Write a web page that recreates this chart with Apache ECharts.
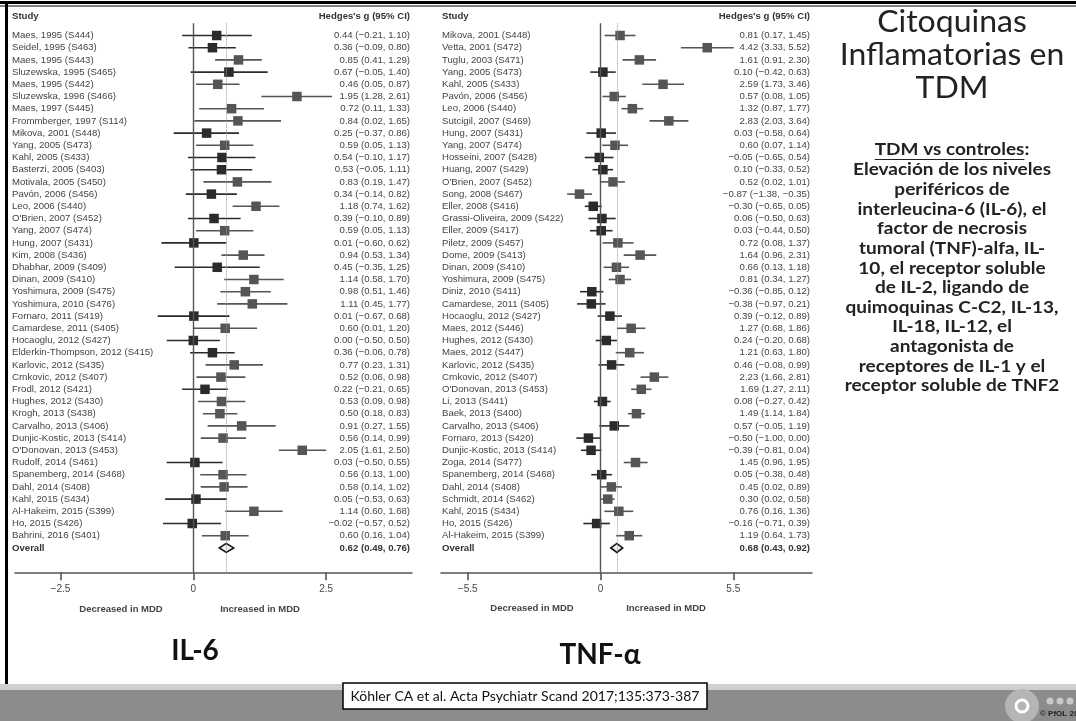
<!DOCTYPE html>
<html><head><meta charset="utf-8">
<script src="https://cdn.jsdelivr.net/npm/echarts@6/dist/echarts.min.js"></script>
<style>html,body{margin:0;padding:0;background:#fff}#c{width:1076px;height:721px}</style>
</head><body><div id="c"></div>
<script>
// ---------- DATA ----------
const il6Studies = ["Maes, 1995 (S444)","Seidel, 1995 (S463)","Maes, 1995 (S443)","Sluzewska, 1995 (S465)","Maes, 1995 (S442)","Sluzewska, 1996 (S466)","Maes, 1997 (S445)","Frommberger, 1997 (S114)","Mikova, 2001 (S448)","Yang, 2005 (S473)","Kahl, 2005 (S433)","Basterzi, 2005 (S403)","Motivala, 2005 (S450)","Pavón, 2006 (S456)","Leo, 2006 (S440)","O'Brien, 2007 (S452)","Yang, 2007 (S474)","Hung, 2007 (S431)","Kim, 2008 (S436)","Dhabhar, 2009 (S409)","Dinan, 2009 (S410)","Yoshimura, 2009 (S475)","Yoshimura, 2010 (S476)","Fornaro, 2011 (S419)","Camardese, 2011 (S405)","Hocaoglu, 2012 (S427)","Elderkin-Thompson, 2012 (S415)","Karlovic, 2012 (S435)","Crnkovic, 2012 (S407)","Frodl, 2012 (S421)","Hughes, 2012 (S430)","Krogh, 2013 (S438)","Carvalho, 2013 (S406)","Dunjic-Kostic, 2013 (S414)","O'Donovan, 2013 (S453)","Rudolf, 2014 (S461)","Spanemberg, 2014 (S468)","Dahl, 2014 (S408)","Kahl, 2015 (S434)","Al-Hakeim, 2015 (S399)","Ho, 2015 (S426)","Bahrini, 2016 (S401)","Overall"];
const il6Est = [0.44,0.36,0.85,0.67,0.46,1.95,0.72,0.84,0.25,0.59,0.54,0.53,0.83,0.34,1.18,0.39,0.59,0.01,0.94,0.45,1.14,0.98,1.11,0.01,0.60,0.00,0.36,0.77,0.52,0.22,0.53,0.50,0.91,0.56,2.05,0.03,0.56,0.58,0.05,1.14,-0.02,0.60,0.62];
const il6Lo  = [-0.21,-0.09,0.41,-0.05,0.05,1.28,0.11,0.02,-0.37,0.05,-0.10,-0.05,0.19,-0.14,0.74,-0.10,0.05,-0.60,0.53,-0.35,0.58,0.51,0.45,-0.67,0.01,-0.50,-0.06,0.23,0.06,-0.21,0.09,0.18,0.27,0.14,1.61,-0.50,0.13,0.14,-0.53,0.60,-0.57,0.16,0.49];
const il6Hi  = [1.10,0.80,1.29,1.40,0.87,2.61,1.33,1.65,0.86,1.13,1.17,1.11,1.47,0.82,1.62,0.89,1.13,0.62,1.34,1.25,1.70,1.46,1.77,0.68,1.20,0.50,0.78,1.31,0.98,0.65,0.98,0.83,1.55,0.99,2.50,0.55,1.00,1.02,0.63,1.68,0.52,1.04,0.76];

const tnfStudies = ["Mikova, 2001 (S448)","Vetta, 2001 (S472)","Tuglu, 2003 (S471)","Yang, 2005 (S473)","Kahl, 2005 (S433)","Pavón, 2006 (S456)","Leo, 2006 (S440)","Sutcigil, 2007 (S469)","Hung, 2007 (S431)","Yang, 2007 (S474)","Hosseini, 2007 (S428)","Huang, 2007 (S429)","O'Brien, 2007 (S452)","Song, 2008 (S467)","Eller, 2008 (S416)","Grassi-Oliveira, 2009 (S422)","Eller, 2009 (S417)","Piletz, 2009 (S457)","Dome, 2009 (S413)","Dinan, 2009 (S410)","Yoshimura, 2009 (S475)","Diniz, 2010 (S411)","Camardese, 2011 (S405)","Hocaoglu, 2012 (S427)","Maes, 2012 (S446)","Hughes, 2012 (S430)","Maes, 2012 (S447)","Karlovic, 2012 (S435)","Crnkovic, 2012 (S407)","O'Donovan, 2013 (S453)","Li, 2013 (S441)","Baek, 2013 (S400)","Carvalho, 2013 (S406)","Fornaro, 2013 (S420)","Dunjic-Kostic, 2013 (S414)","Zoga, 2014 (S477)","Spanemberg, 2014 (S468)","Dahl, 2014 (S408)","Schmidt, 2014 (S462)","Kahl, 2015 (S434)","Ho, 2015 (S426)","Al-Hakeim, 2015 (S399)","Overall"];
const tnfEst = [0.81,4.42,1.61,0.10,2.59,0.57,1.32,2.83,0.03,0.60,-0.05,0.10,0.52,-0.87,-0.30,0.06,0.03,0.72,1.64,0.66,0.81,-0.36,-0.38,0.39,1.27,0.24,1.21,0.46,2.23,1.69,0.08,1.49,0.57,-0.50,-0.39,1.45,0.05,0.45,0.30,0.76,-0.16,1.19,0.68];
const tnfLo  = [0.17,3.33,0.91,-0.42,1.73,0.08,0.87,2.03,-0.58,0.07,-0.65,-0.33,0.02,-1.38,-0.65,-0.50,-0.44,0.08,0.96,0.13,0.34,-0.85,-0.97,-0.12,0.68,-0.20,0.63,-0.08,1.66,1.27,-0.27,1.14,-0.05,-1.00,-0.81,0.96,-0.38,0.02,0.02,0.16,-0.71,0.64,0.43];
const tnfHi  = [1.45,5.52,2.30,0.63,3.46,1.05,1.77,3.64,0.64,1.14,0.54,0.52,1.01,-0.35,0.05,0.63,0.50,1.37,2.31,1.18,1.27,0.12,0.21,0.89,1.86,0.68,1.80,0.99,2.81,2.11,0.42,1.84,1.19,0.00,0.04,1.95,0.48,0.89,0.58,1.36,0.39,1.73,0.92];

const il6Ticks = [-2.5, 0, 2.5];
const tnfTicks = [-5.5, 0, 5.5];

const slideTitle = ["Citoquinas", "Inflamatorias en", "TDM"];
const bodyHead = "TDM vs controles";
const bodyLines = ["Elevación de los niveles","periféricos de","interleucina-6 (IL-6), el","factor de necrosis","tumoral (TNF)-alfa, IL-","10, el receptor soluble","de IL-2, ligando de","quimoquinas C-C2, IL-13,","IL-18, IL-12, el","antagonista de","receptores de IL-1 y el","receptor soluble de TNF2"];
const citation = "Köhler CA et al. Acta Psychiatr Scand 2017;135:373-387";

// ---------- HELPERS ----------
const SANS = "'Liberation Sans', Arial, sans-serif";
const SLIDE = "Lato, 'Open Sans', sans-serif";
const num = v => (v < 0 ? '−' : '') + Math.abs(v).toFixed(2);
const tick = v => (v < 0 ? '−' : '') + Math.abs(v);
function ciLabels(est, lo, hi){ return est.map((e,i)=> num(e)+' ('+num(lo[i])+', '+num(hi[i])+')'); }
const il6CI = ciLabels(il6Est, il6Lo, il6Hi);
const tnfCI = ciLabels(tnfEst, tnfLo, tnfHi);

function rows(est, lo, hi){
  return est.map((e,i)=>[e, i, lo[i], hi[i], i === est.length-1 ? 1 : 0]);
}
function renderItem(params, api){
  const est=api.value(0), row=api.value(1), lo=api.value(2), hi=api.value(3), ov=api.value(4);
  const pL=api.coord([lo,row]), pR=api.coord([hi,row]), pC=api.coord([est,row]);
  if (ov){
    const h=4.5;
    return {type:'polygon', shape:{points:[[pL[0],pC[1]],[pC[0],pC[1]-h],[pR[0],pC[1]],[pC[0],pC[1]+h]]},
      style:{fill:'#eeeeee', stroke:'#111', lineWidth:1.6}};
  }
  const sig = lo > 0 || hi < 0;
  const col = sig ? '#555555' : '#2b2b2b';
  const s = 9.5;
  return {type:'group', children:[
    {type:'line', shape:{x1:pL[0],y1:pL[1],x2:pR[0],y2:pR[1]}, style:{stroke:col, lineWidth:1.6}},
    {type:'rect', shape:{x:pC[0]-s/2,y:pC[1]-s/2,width:s,height:s}, style:{fill:col}}
  ]};
}
function yAxes(grid, names, ci, leftMargin, rightMargin){
  const n = names.length;
  const common = {type:'value', gridIndex:grid, min:-1, max:44, interval:1, inverse:true,
    axisLine:{show:false}, axisTick:{show:false}, splitLine:{show:false}};
  const lab = arr => (v => { const i=Math.round(v); if(i<0||i>=n) return ''; return i===n-1 ? '{b|'+arr[i]+'}' : arr[i]; });
  return [
    Object.assign({}, common, {position:'left', axisLabel:{align:'left', margin:leftMargin, fontSize:9.6, color:'#444', fontFamily:SANS,
      formatter: lab(names), rich:{b:{fontWeight:'bold', fontSize:9.6, color:'#333', fontFamily:SANS}}}}),
    Object.assign({}, common, {position:'right', axisLabel:{align:'right', margin:rightMargin, fontSize:9.6, color:'#444', fontFamily:SANS,
      formatter: lab(ci), rich:{b:{fontWeight:'bold', fontSize:9.6, color:'#333', fontFamily:SANS}}}})
  ];
}
function xAxis(grid, min, max, ticks){
  return {type:'value', gridIndex:grid, min:min, max:max,
    axisLine:{show:true, onZero:false, lineStyle:{color:'#555', width:1.6}},
    axisTick:{show:true, length:8, customValues:ticks, lineStyle:{color:'#555', width:1.6}},
    axisLabel:{customValues:ticks, formatter:tick, fontSize:10, color:'#444', fontFamily:SANS, margin:12},
    splitLine:{show:false}};
}
function refLines(overall){
  return {symbol:'none', silent:true, label:{show:false}, animation:false,
    data:[{xAxis:0, lineStyle:{color:'#555', width:1.4, type:'solid'}},
          {xAxis:overall, lineStyle:{color:'#9a9a9a', width:1, type:'dotted'}}]};
}

// ---------- GRAPHICS (slide decorations & static text) ----------
const BODYFONT = 'bold 19px ' + SLIDE;
const BODYSY = 0.86;
const mc = document.createElement('canvas').getContext('2d');
mc.font = BODYFONT;
const headW = mc.measureText(bodyHead).width;
const colonW = mc.measureText(':').width;
const bodyCX = 952;
const graphics = [];
// frame
graphics.push({type:'rect', shape:{x:0,y:1,width:1076,height:3}, style:{fill:'#000'}});
graphics.push({type:'rect', shape:{x:0,y:5.5,width:1076,height:1}, style:{fill:'#000'}});
graphics.push({type:'rect', shape:{x:5,y:1,width:3,height:689}, style:{fill:'#000'}});
// bottom band
graphics.push({type:'rect', shape:{x:0,y:684,width:1076,height:6}, style:{fill:'#cfcfcf'}});
graphics.push({type:'rect', shape:{x:0,y:690,width:1076,height:31}, style:{fill:'#8c8c8c'}});
// headers
[['Study',12,'left'],["Hedges's g (95% CI)",410,'right'],['Study',442,'left'],["Hedges's g (95% CI)",810,'right']].forEach(h=>{
  graphics.push({type:'text', x:h[1], y:16.5, style:{text:h[0], fill:'#333', font:'bold 9.6px '+SANS, align:h[2], verticalAlign:'middle'}});
});
[['Decreased in MDD',121,609],['Increased in MDD',260,609],['Decreased in MDD',532,608],['Increased in MDD',666,608]].forEach(h=>{
  graphics.push({type:'text', x:h[1], y:h[2], style:{text:h[0], fill:'#444', font:'bold 9.5px '+SANS, align:'center', verticalAlign:'middle'}});
});
graphics.push({type:'text', x:195, y:651, style:{text:'IL-6', fill:'#111', font:'bold 28px '+SLIDE, align:'center', verticalAlign:'middle'}});
graphics.push({type:'text', x:600, y:655, style:{text:'TNF-α', fill:'#111', font:'bold 28px '+SLIDE, align:'center', verticalAlign:'middle'}});
// slide title
slideTitle.forEach((t,i)=>{
  graphics.push({type:'text', x:bodyCX, y:22+i*33, scaleY:0.95, style:{text:t, fill:'#222', font:'32px '+SLIDE, align:'center', verticalAlign:'middle'}});
});
// body
const hx = bodyCX - (headW+colonW)/2;
graphics.push({type:'text', x:hx, y:150, scaleY:BODYSY, style:{text:bodyHead, fill:'#222', font:BODYFONT, align:'left', verticalAlign:'middle'}});
graphics.push({type:'text', x:hx+headW, y:150, scaleY:BODYSY, style:{text:':', fill:'#222', font:BODYFONT, align:'left', verticalAlign:'middle'}});
graphics.push({type:'line', shape:{x1:hx, y1:159.5, x2:hx+headW, y2:159.5}, style:{stroke:'#222', lineWidth:1.2}});
bodyLines.forEach((t,i)=>{
  graphics.push({type:'text', x:bodyCX, y:170+i*19.65, scaleY:BODYSY, style:{text:t, fill:'#222', font:BODYFONT, align:'center', verticalAlign:'middle'}});
});
// citation box
graphics.push({type:'rect', shape:{x:343,y:683,width:364,height:26}, style:{fill:'#fff', stroke:'#000', lineWidth:1.5}});
graphics.push({type:'text', x:525, y:696, style:{text:citation, fill:'#111', font:'14px '+SLIDE, align:'center', verticalAlign:'middle'}});
// logo
graphics.push({type:'circle', shape:{cx:1022, cy:706, r:17}, style:{fill:'#b5b5b5'}});
graphics.push({type:'circle', shape:{cx:1022, cy:706, r:6}, style:{fill:'none', stroke:'#fff', lineWidth:3}});
[1050,1060,1070].forEach(x=>graphics.push({type:'circle', shape:{cx:x, cy:701, r:3.5}, style:{fill:'#c8c8c8'}}));
graphics.push({type:'text', x:1040, y:714, style:{text:'© PfOL 2017', fill:'#222', font:'bold 8px '+SANS, align:'left', verticalAlign:'middle'}});

// ---------- CHART ----------
const chart = echarts.init(document.getElementById('c'), null, {renderer:'canvas'});
const ya1 = yAxes(0, il6Studies, il6CI, 3, -2);
const ya2 = yAxes(1, tnfStudies, tnfCI, -1, -2);
chart.setOption({
  animation:false,
  backgroundColor:'#ffffff',
  grid:[{left:15, top:23.3, width:397, height:549}, {left:441, top:23.3, width:371, height:549}],
  xAxis:[xAxis(0, -3.355, 4.115, il6Ticks), xAxis(1, -6.606, 8.76, tnfTicks)],
  yAxis:[ya1[0], ya1[1], ya2[0], ya2[1]],
  series:[
    {type:'custom', xAxisIndex:0, yAxisIndex:0, renderItem:renderItem, data:rows(il6Est, il6Lo, il6Hi),
     markLine:refLines(il6Est[il6Est.length-1]), z:3},
    {type:'custom', xAxisIndex:1, yAxisIndex:2, renderItem:renderItem, data:rows(tnfEst, tnfLo, tnfHi),
     markLine:refLines(tnfEst[tnfEst.length-1]), z:3}
  ],
  graphic:{elements:graphics}
});
</script></body></html>
